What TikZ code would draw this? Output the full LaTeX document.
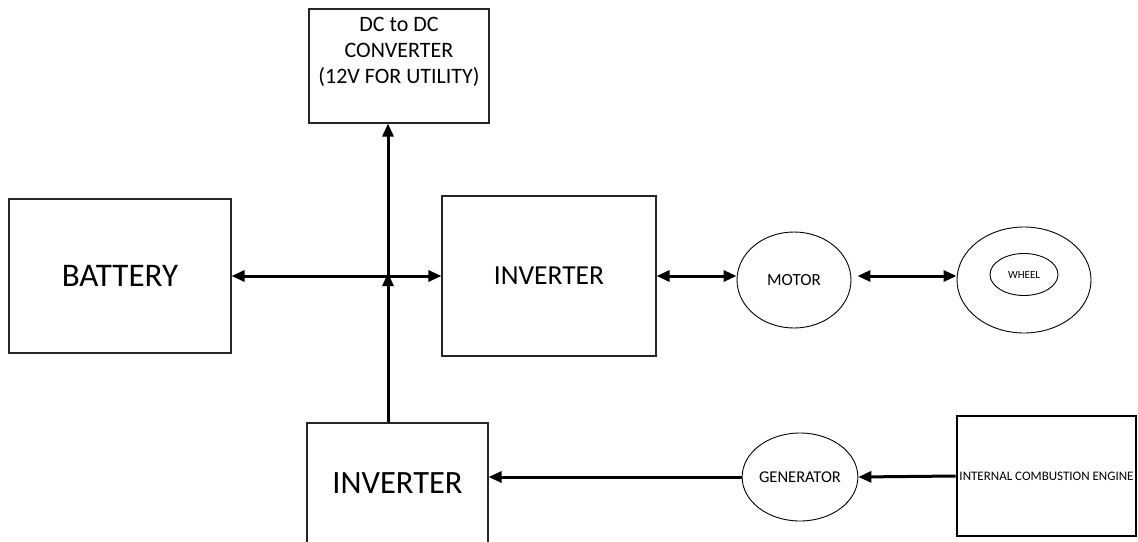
\documentclass[tikz,border=0pt]{standalone}
\usepackage{fontspec}
\setmainfont{Carlito}
\usetikzlibrary{arrows.meta,shapes.geometric}

\tikzset{
  block/.style={draw=black!85, line width=1.1pt, rectangle, inner sep=0pt, align=center},
  heavyblock/.style={draw=black, line width=2.6pt, rectangle, inner sep=0pt},
  oval/.style={draw=black, line width=0.9pt, ellipse, inner sep=0pt},
  tip/.tip={Triangle[length=13pt,width=11pt]},
  link/.style={line width=3pt, -tip},
  duplex/.style={line width=3pt, tip-tip}
}

\begin{document}
\begin{tikzpicture}[x=1pt, y=-1pt]
  \useasboundingbox (0,0) rectangle (1138,541);
  \clip (0,0) rectangle (1138,541);

  % storage, conversion and drive blocks
  \node[block, minimum width=180pt, minimum height=114pt, font=\fontsize{22}{26}\selectfont]
    (dcdc) at (399,66) {DC to DC\\CONVERTER\\(12V FOR UTILITY)\\[6pt]};
  \node[block, minimum width=222pt, minimum height=154pt, font=\fontsize{33}{38}\selectfont]
    (battery) at (120,276) {\raisebox{-8pt}{BATTERY}};
  \node[block, minimum width=214pt, minimum height=160pt, font=\fontsize{27.5}{32}\selectfont]
    (inv1) at (549,276) {\raisebox{-9pt}{INVERTER}};
  \node[block, minimum width=181pt, minimum height=120pt, font=\fontsize{32.5}{36}\selectfont]
    (inv2) at (397.5,483) {INVERTER};

  \node[oval, minimum width=114pt, minimum height=96pt, font=\fontsize{17}{20}\selectfont]
    (motor) at (794,280) {MOTOR};
  \node[oval, minimum width=134pt, minimum height=106pt] (wheel) at (1024,280) {};
  \node[oval, minimum width=68pt, minimum height=42pt, font=\fontsize{11}{13}\selectfont]
    (hub) at (1024,274.5) {WHEEL};

  \node[oval, minimum width=114pt, minimum height=88pt, font=\fontsize{16.5}{20}\selectfont]
    (gen) at (800,477) {GENERATOR};
  \node[heavyblock, minimum width=179pt, minimum height=120pt, font=\fontsize{13}{16}\selectfont]
    (ice) at (1046.5,476) {INTERNAL COMBUSTION ENGINE};

  % DC bus junction
  \coordinate (j) at (388,276);

  % connectors
  \draw[duplex] (battery.east) -- (inv1.west);
  \draw[duplex] (inv1.east) -- (inv1.east -| motor.west);
  \draw[duplex, shorten <=6pt] (motor.east |- inv1.east) -- (inv1.east -| wheel.west);
  \draw[link] (inv2.north -| j) -- ([yshift=3pt]j);
  \draw[link] (j) -- (j |- dcdc.south);
  \draw[link] (ice.west) -- (gen.east);
  \draw[link] (gen.west) -- (gen.west -| inv2.east);
\end{tikzpicture}
\end{document}
